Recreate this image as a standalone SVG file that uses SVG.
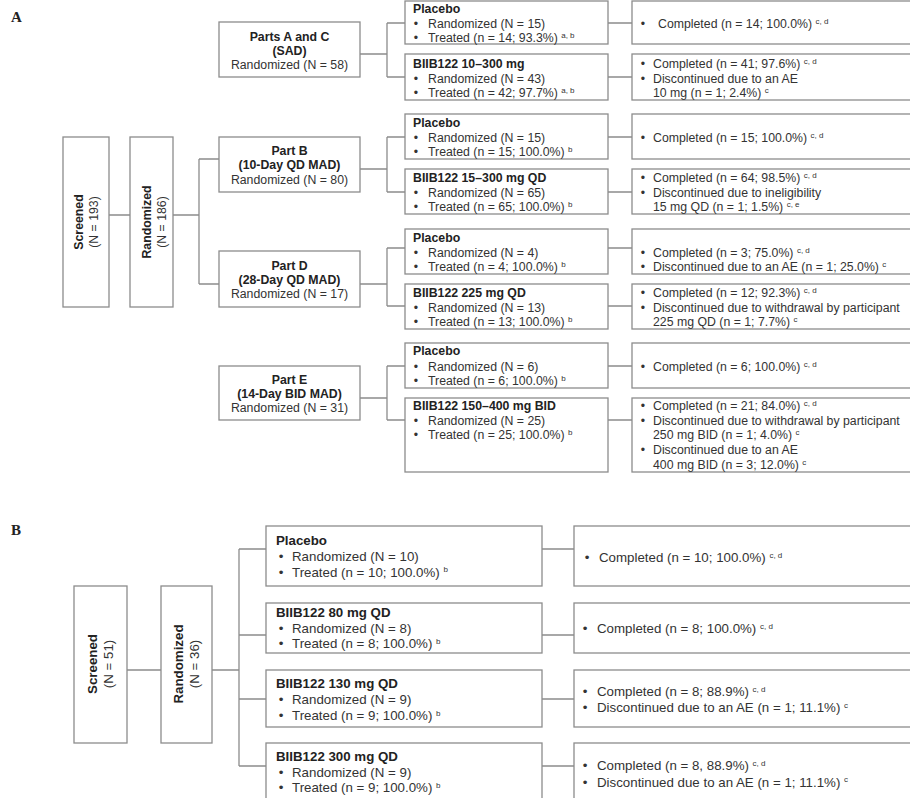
<svg xmlns="http://www.w3.org/2000/svg" width="910" height="798" viewBox="0 0 910 798">
<style>
  .box { fill: #ffffff; stroke: #8c8c8c; stroke-width: 1.3; }
  .ln { fill: none; stroke: #8c8c8c; stroke-width: 1.3; }
  text { font-family: "Liberation Sans", Arial, sans-serif; fill: #333333; }
  .a { font-size: 12.3px; }
  .b { font-size: 13.3px; }
  .t { font-weight: bold; fill: #222222; }
  .c { text-anchor: middle; }
  .bul { text-anchor: middle; }
  .sup { font-size: 8px; }
  .lab { font-family: "Liberation Serif", "Times New Roman", serif; font-weight: bold; font-size: 15px; fill: #222222; }
</style>
<rect width="910" height="798" fill="#ffffff"/>
<text class="lab" x="11" y="22">A</text>
<text class="lab" x="11" y="535">B</text>

<g id="connectors">
  <!-- Panel A -->
  <path class="ln" d="M109 215 H130 M173 215 H199 M199 159 V284 M199 159 H219 M199 284 H219"/>
  <path class="ln" d="M360 54 H387 M387 23 V77 M387 23 H405 M387 77 H405 M608 23 H632 M608 77 H632"/>
  <path class="ln" d="M360 169 H387 M387 137 V192 M387 137 H405 M387 192 H405 M608 137 H632 M608 192 H632"/>
  <path class="ln" d="M360 284 H387 M387 248 V306 M387 248 H405 M387 306 H405 M608 248 H632 M608 306 H632"/>
  <path class="ln" d="M360 398 H387 M387 366 V420 M387 366 H405 M387 420 H405 M608 366 H632 M608 420 H632"/>
  <!-- Panel B -->
  <path class="ln" d="M127 670 H161 M212 670 H239 M239 549 V766 M239 549 H266 M239 635 H266 M239 699 H266 M239 766 H266"/>
  <path class="ln" d="M542 549 H574 M542 635 H574 M542 699 H574 M542 766 H574"/>
</g>

<!-- Panel A -->
<g id="a-screened">
  <rect class="box" x="63" y="137" width="46" height="170"/>
  <text class="a t c" transform="translate(82.5 222) rotate(-90)">Screened</text>
  <text class="a c" transform="translate(97.5 222) rotate(-90)">(N = 193)</text>
</g>
<g id="a-randomized">
  <rect class="box" x="130" y="137" width="43" height="170"/>
  <text class="a t c" transform="translate(150.5 222) rotate(-90)">Randomized</text>
  <text class="a c" transform="translate(165.5 222) rotate(-90)">(N = 186)</text>
</g>

<g id="a-partAC">
  <rect class="box" x="219" y="22" width="141" height="55"/>
  <text class="a t c" x="289.5" y="40.5">Parts A and C</text>
  <text class="a t c" x="289.5" y="54.5">(SAD)</text>
  <text class="a c" x="289.5" y="69">Randomized (N = 58)</text>
</g>
<g id="a-partB">
  <rect class="box" x="219" y="137" width="141" height="55"/>
  <text class="a t c" x="289.5" y="155">Part B</text>
  <text class="a t c" x="289.5" y="169">(10-Day QD MAD)</text>
  <text class="a c" x="289.5" y="183.5">Randomized (N = 80)</text>
</g>
<g id="a-partD">
  <rect class="box" x="219" y="251" width="141" height="56"/>
  <text class="a t c" x="289.5" y="270">Part D</text>
  <text class="a t c" x="289.5" y="284">(28-Day QD MAD)</text>
  <text class="a c" x="289.5" y="298">Randomized (N = 17)</text>
</g>
<g id="a-partE">
  <rect class="box" x="219" y="366" width="141" height="54"/>
  <text class="a t c" x="289.5" y="384">Part E</text>
  <text class="a t c" x="289.5" y="398">(14-Day BID MAD)</text>
  <text class="a c" x="289.5" y="412">Randomized (N = 31)</text>
</g>

<g id="a-ac-placebo">
  <rect class="box" x="405" y="1" width="203" height="43"/>
  <text class="a t" x="413" y="12.7">Placebo</text>
  <text class="a bul" x="416" y="27.7">•</text><text class="a" x="428" y="27.7">Randomized (N = 15)</text>
  <text class="a bul" x="416" y="42">•</text><text class="a" x="428" y="42">Treated (n = 14; 93.3%) <tspan class="sup" dy="-4">a, b</tspan></text>
</g>
<g id="a-ac-biib">
  <rect class="box" x="405" y="54" width="203" height="46"/>
  <text class="a t" x="413" y="67.7">BIIB122 10–300 mg</text>
  <text class="a bul" x="416" y="82.7">•</text><text class="a" x="428" y="82.7">Randomized (N = 43)</text>
  <text class="a bul" x="416" y="96.7">•</text><text class="a" x="428" y="96.7">Treated (n = 42; 97.7%) <tspan class="sup" dy="-4">a, b</tspan></text>
</g>
<g id="a-b-placebo">
  <rect class="box" x="405" y="114" width="203" height="45"/>
  <text class="a t" x="413" y="127">Placebo</text>
  <text class="a bul" x="416" y="141.7">•</text><text class="a" x="428" y="141.7">Randomized (N = 15)</text>
  <text class="a bul" x="416" y="156">•</text><text class="a" x="428" y="156">Treated (n = 15; 100.0%) <tspan class="sup" dy="-4">b</tspan></text>
</g>
<g id="a-b-biib">
  <rect class="box" x="405" y="169" width="203" height="45"/>
  <text class="a t" x="413" y="182">BIIB122 15–300 mg QD</text>
  <text class="a bul" x="416" y="197">•</text><text class="a" x="428" y="197">Randomized (N = 65)</text>
  <text class="a bul" x="416" y="211">•</text><text class="a" x="428" y="211">Treated (n = 65; 100.0%) <tspan class="sup" dy="-4">b</tspan></text>
</g>
<g id="a-d-placebo">
  <rect class="box" x="405" y="229" width="203" height="45"/>
  <text class="a t" x="413" y="241.7">Placebo</text>
  <text class="a bul" x="416" y="256.7">•</text><text class="a" x="428" y="256.7">Randomized (N = 4)</text>
  <text class="a bul" x="416" y="271">•</text><text class="a" x="428" y="271">Treated (n = 4; 100.0%) <tspan class="sup" dy="-4">b</tspan></text>
</g>
<g id="a-d-biib">
  <rect class="box" x="405" y="284" width="203" height="45"/>
  <text class="a t" x="413" y="296.7">BIIB122 225 mg QD</text>
  <text class="a bul" x="416" y="311.7">•</text><text class="a" x="428" y="311.7">Randomized (N = 13)</text>
  <text class="a bul" x="416" y="326">•</text><text class="a" x="428" y="326">Treated (n = 13; 100.0%) <tspan class="sup" dy="-4">b</tspan></text>
</g>
<g id="a-e-placebo">
  <rect class="box" x="405" y="343" width="203" height="45"/>
  <text class="a t" x="413" y="355.4">Placebo</text>
  <text class="a bul" x="416" y="371">•</text><text class="a" x="428" y="371">Randomized (N = 6)</text>
  <text class="a bul" x="416" y="385.4">•</text><text class="a" x="428" y="385.4">Treated (n = 6; 100.0%) <tspan class="sup" dy="-4">b</tspan></text>
</g>
<g id="a-e-biib">
  <rect class="box" x="405" y="398" width="203" height="74"/>
  <text class="a t" x="413" y="410">BIIB122 150–400 mg BID</text>
  <text class="a bul" x="416" y="425">•</text><text class="a" x="428" y="425">Randomized (N = 25)</text>
  <text class="a bul" x="416" y="439.4">•</text><text class="a" x="428" y="439.4">Treated (n = 25; 100.0%) <tspan class="sup" dy="-4">b</tspan></text>
</g>

<g id="a-ac-placebo-out">
  <rect class="box" x="632" y="1" width="290" height="43"/>
  <text class="a bul" x="643" y="27.7">•</text><text class="a" x="658" y="27.7">Completed (n = 14; 100.0%) <tspan class="sup" dy="-4">c, d</tspan></text>
</g>
<g id="a-ac-biib-out">
  <rect class="box" x="632" y="54" width="290" height="46"/>
  <text class="a bul" x="643" y="67.7">•</text><text class="a" x="653" y="67.7">Completed (n = 41; 97.6%) <tspan class="sup" dy="-4">c, d</tspan></text>
  <text class="a bul" x="643" y="82.7">•</text><text class="a" x="653" y="82.7">Discontinued due to an AE</text>
  <text class="a" x="653" y="96.7">10 mg (n = 1; 2.4%) <tspan class="sup" dy="-4">c</tspan></text>
</g>
<g id="a-b-placebo-out">
  <rect class="box" x="632" y="114" width="290" height="45"/>
  <text class="a bul" x="643" y="141.7">•</text><text class="a" x="653" y="141.7">Completed (n = 15; 100.0%) <tspan class="sup" dy="-4">c, d</tspan></text>
</g>
<g id="a-b-biib-out">
  <rect class="box" x="632" y="169" width="290" height="45"/>
  <text class="a bul" x="643" y="182">•</text><text class="a" x="653" y="182">Completed (n = 64; 98.5%) <tspan class="sup" dy="-4">c, d</tspan></text>
  <text class="a bul" x="643" y="197">•</text><text class="a" x="653" y="197">Discontinued due to ineligibility</text>
  <text class="a" x="653" y="211">15 mg QD (n = 1; 1.5%) <tspan class="sup" dy="-4">c, e</tspan></text>
</g>
<g id="a-d-placebo-out">
  <rect class="box" x="632" y="229" width="290" height="45"/>
  <text class="a bul" x="643" y="256.7">•</text><text class="a" x="653" y="256.7">Completed (n = 3; 75.0%) <tspan class="sup" dy="-4">c, d</tspan></text>
  <text class="a bul" x="643" y="271">•</text><text class="a" x="653" y="271">Discontinued due to an AE (n = 1; 25.0%) <tspan class="sup" dy="-4">c</tspan></text>
</g>
<g id="a-d-biib-out">
  <rect class="box" x="632" y="284" width="290" height="45"/>
  <text class="a bul" x="643" y="296.7">•</text><text class="a" x="653" y="296.7">Completed (n = 12; 92.3%) <tspan class="sup" dy="-4">c, d</tspan></text>
  <text class="a bul" x="643" y="311.7">•</text><text class="a" x="653" y="311.7">Discontinued due to withdrawal by participant</text>
  <text class="a" x="653" y="326">225 mg QD (n = 1; 7.7%) <tspan class="sup" dy="-4">c</tspan></text>
</g>
<g id="a-e-placebo-out">
  <rect class="box" x="632" y="343" width="290" height="45"/>
  <text class="a bul" x="643" y="371">•</text><text class="a" x="653" y="371">Completed (n = 6; 100.0%) <tspan class="sup" dy="-4">c, d</tspan></text>
</g>
<g id="a-e-biib-out">
  <rect class="box" x="632" y="398" width="290" height="74"/>
  <text class="a bul" x="643" y="410">•</text><text class="a" x="653" y="410">Completed (n = 21; 84.0%) <tspan class="sup" dy="-4">c, d</tspan></text>
  <text class="a bul" x="643" y="425">•</text><text class="a" x="653" y="425">Discontinued due to withdrawal by participant</text>
  <text class="a" x="653" y="439.4">250 mg BID (n = 1; 4.0%) <tspan class="sup" dy="-4">c</tspan></text>
  <text class="a bul" x="643" y="454.4">•</text><text class="a" x="653" y="454.4">Discontinued due to an AE</text>
  <text class="a" x="653" y="468.7">400 mg BID (n = 3; 12.0%) <tspan class="sup" dy="-4">c</tspan></text>
</g>

<!-- Panel B -->
<g id="b-screened">
  <rect class="box" x="74" y="586" width="53" height="157"/>
  <text class="b t c" transform="translate(96.8 664) rotate(-90)">Screened</text>
  <text class="b c" transform="translate(112.8 664) rotate(-90)">(N = 51)</text>
</g>
<g id="b-randomized">
  <rect class="box" x="161" y="586" width="51" height="157"/>
  <text class="b t c" transform="translate(183.3 664) rotate(-90)">Randomized</text>
  <text class="b c" transform="translate(199.3 664) rotate(-90)">(N = 36)</text>
</g>

<g id="b-placebo">
  <rect class="box" x="266" y="526" width="276" height="60"/>
  <text class="b t" x="276" y="544.8">Placebo</text>
  <text class="b bul" x="281" y="561">•</text><text class="b" x="292" y="561">Randomized (N = 10)</text>
  <text class="b bul" x="281" y="576.5">•</text><text class="b" x="292" y="576.5">Treated (n = 10; 100.0%) <tspan class="sup" dy="-4.5">b</tspan></text>
</g>
<g id="b-80">
  <rect class="box" x="266" y="603" width="276" height="50"/>
  <text class="b t" x="276" y="616.5">BIIB122 80 mg QD</text>
  <text class="b bul" x="281" y="633">•</text><text class="b" x="292" y="633">Randomized (N = 8)</text>
  <text class="b bul" x="281" y="648">•</text><text class="b" x="292" y="648">Treated (n = 8; 100.0%) <tspan class="sup" dy="-4.5">b</tspan></text>
</g>
<g id="b-130">
  <rect class="box" x="266" y="670" width="276" height="57"/>
  <text class="b t" x="276" y="687.5">BIIB122 130 mg QD</text>
  <text class="b bul" x="281" y="704">•</text><text class="b" x="292" y="704">Randomized (N = 9)</text>
  <text class="b bul" x="281" y="720">•</text><text class="b" x="292" y="720">Treated (n = 9; 100.0%) <tspan class="sup" dy="-4.5">b</tspan></text>
</g>
<g id="b-300">
  <rect class="box" x="266" y="743" width="276" height="70"/>
  <text class="b t" x="276" y="761">BIIB122 300 mg QD</text>
  <text class="b bul" x="281" y="776.5">•</text><text class="b" x="292" y="776.5">Randomized (N = 9)</text>
  <text class="b bul" x="281" y="792">•</text><text class="b" x="292" y="792">Treated (n = 9; 100.0%) <tspan class="sup" dy="-4.5">b</tspan></text>
</g>

<g id="b-placebo-out">
  <rect class="box" x="574" y="526" width="350" height="60"/>
  <text class="b bul" x="587" y="562">•</text><text class="b" x="599" y="562">Completed (n = 10; 100.0%) <tspan class="sup" dy="-4.5">c, d</tspan></text>
</g>
<g id="b-80-out">
  <rect class="box" x="574" y="603" width="350" height="50"/>
  <text class="b bul" x="585" y="633">•</text><text class="b" x="597" y="633">Completed (n = 8; 100.0%) <tspan class="sup" dy="-4.5">c, d</tspan></text>
</g>
<g id="b-130-out">
  <rect class="box" x="574" y="670" width="350" height="57"/>
  <text class="b bul" x="585" y="696">•</text><text class="b" x="597" y="696">Completed (n = 8; 88.9%) <tspan class="sup" dy="-4.5">c, d</tspan></text>
  <text class="b bul" x="585" y="712">•</text><text class="b" x="597" y="712">Discontinued due to an AE (n = 1; 11.1%) <tspan class="sup" dy="-4.5">c</tspan></text>
</g>
<g id="b-300-out">
  <rect class="box" x="574" y="743" width="350" height="70"/>
  <text class="b bul" x="585" y="770">•</text><text class="b" x="597" y="770">Completed (n = 8, 88.9%) <tspan class="sup" dy="-4.5">c, d</tspan></text>
  <text class="b bul" x="585" y="786.5">•</text><text class="b" x="597" y="786.5">Discontinued due to an AE (n = 1; 11.1%) <tspan class="sup" dy="-4.5">c</tspan></text>
</g>
</svg>
